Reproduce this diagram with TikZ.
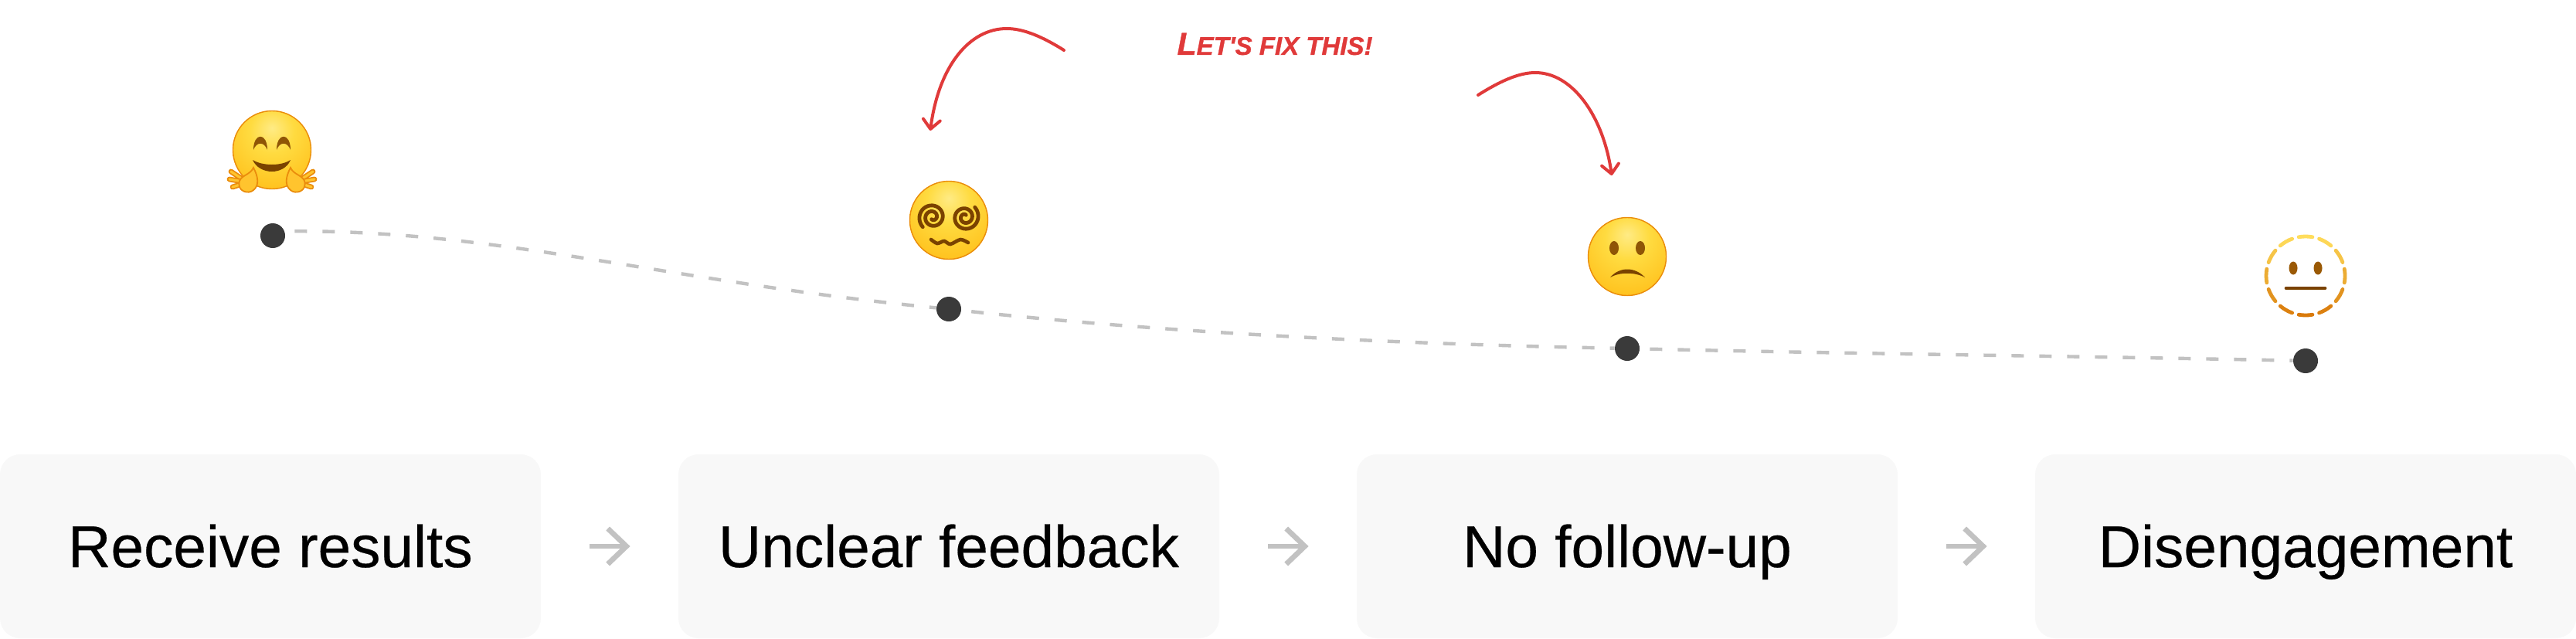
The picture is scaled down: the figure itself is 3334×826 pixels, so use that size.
\documentclass[tikz,border=0pt]{standalone}
\usepackage{fontspec}
\setmainfont{Liberation Sans}
\newfontfamily\boxfont[FakeBold=0.3]{Liberation Sans}
\newfontfamily\notefont[FakeBold=1]{Liberation Sans Bold Italic}
\usetikzlibrary{arrows.meta}

\definecolor{boxgray}{HTML}{F8F8F8}
\definecolor{linegray}{HTML}{C2C2C2}
\definecolor{dotdark}{HTML}{3A3A3A}
\definecolor{notered}{HTML}{E03A3A}
\definecolor{facerim}{HTML}{EA8C0C}
\definecolor{browndark}{HTML}{7A4200}
\definecolor{brownmid}{HTML}{8F5506}
\definecolor{handlight}{HTML}{FFC42E}
\definecolor{dashtop}{HTML}{FFDD5C}
\definecolor{dashbottom}{HTML}{D97A0A}

\definecolor{faceA}{HTML}{FFEB85}
\definecolor{faceB}{HTML}{FFDB40}
\definecolor{faceC}{HTML}{FFC522}
\definecolor{faceD}{HTML}{F8A015}
\definecolor{faceE}{HTML}{E27E08}

\pgfdeclareradialshading{faceshade}{\pgfpoint{0bp}{14bp}}{%
  color(0bp)=(faceA);
  color(14bp)=(faceB);
  color(32bp)=(faceC);
  color(47bp)=(faceD);
  color(62bp)=(faceE);
  color(100bp)=(faceE)}

\tikzset{
  stepbox/.style={fill=boxgray,rounded corners=13pt,minimum width=350pt,minimum height=119pt,
    inner sep=0pt,text height=27pt,text depth=0pt,font=\boxfont\fontsize{38.3}{38.3}\selectfont},
  stepflow/.style={linegray,line width=3.4pt,shorten <=31.5pt,shorten >=31pt,
    -{Straight Barb[length=12pt,width=23pt,line width=3.4pt]}},
  dotmark/.style={circle,fill=dotdark,minimum size=16pt,inner sep=0pt},
  journey/.style={linegray,line width=2.2pt,dash pattern=on 8pt off 10pt,dash phase=11.5pt},
  redcurve/.style={notered,line width=2pt,line cap=round,
    -{Straight Barb[length=6pt,width=11pt,line width=2pt,round]}}
}

% one yellow ball, no features
\newcommand{\faceball}{
  \shade[shading=faceshade] (0,0) circle [radius=51];
  \draw[facerim,line width=0.7pt] (0,0) circle [radius=50.5];
}

\begin{document}
\begin{tikzpicture}[x=0.5pt,y=-0.5pt]
  \useasboundingbox (0,0) rectangle (3334,826);

  % Boxes
  \node[stepbox] (receive) at (350,707) {Receive results};
  \node[stepbox] (unclear) at (1228,707) {Unclear feedback};
  \node[stepbox] (nofollow) at (2106,707) {No follow-up};
  \node[stepbox] (disengage) at (2984,707) {Disengagement};
  \draw[stepflow] (receive) -- (unclear);
  \draw[stepflow] (unclear) -- (nofollow);
  \draw[stepflow] (nofollow) -- (disengage);

  % Dots and dashed line
  \node[dotmark] (dotA) at (353,305) {};
  \node[dotmark] (dotB) at (1228,400) {};
  \node[dotmark] (dotC) at (2106,451) {};
  \node[dotmark] (dotD) at (2984,467) {};
  \draw[journey] (dotA.20) .. controls (640,296) and (860,364) .. (dotB)
    .. controls (1500,430) and (1800,445) .. (dotC)
    .. controls (2400,458) and (2700,461) .. (dotD);

  % Hugging face
  \begin{scope}[shift={(352,194)}]
    \faceball
    \fill[brownmid] (-24,0) .. controls (-24,-23) and (-6,-23) .. (-6,0)
      .. controls (-10,-11) and (-20,-11) .. cycle;
    \fill[brownmid] (6,0) .. controls (6,-23) and (24,-23) .. (24,0)
      .. controls (20,-11) and (10,-11) .. cycle;
    \fill[browndark] (-25,13) .. controls (-12,21) and (12,21) .. (24,13)
      .. controls (16,33) and (-16,33) .. cycle;
    \foreach \side in {-1,1} {
      \begin{scope}[xscale=\side]
        \foreach \tipx/\tipy in {53/28,55/38,51/48} {
          \draw[facerim,line width=3.4pt,line cap=round] (32,42) -- (\tipx,\tipy);
          \draw[handlight,line width=1.6pt,line cap=round] (32,42) -- (\tipx,\tipy);
        }
        \fill[handlight,draw=facerim,line width=0.9pt] (24,23)
          .. controls (28,32) and (38,32) .. (42,40)
          .. controls (46,54) and (30,58) .. (24,52)
          .. controls (16,46) and (18,34) .. cycle;
      \end{scope}
    }
  \end{scope}

  % Spiral eyes
  \begin{scope}[shift={(1228,285)}]
    \faceball
    \foreach \cx/\start in {-21/135,21/-45} {
      \draw[browndark,line width=2.4pt,line cap=round,domain=0:700,samples=80,smooth,variable=\t]
        plot ({\cx+(18-15*\t/700)*cos(\start+\t)},{-4+(18-15*\t/700)*sin(\start+\t)});
    }
    \draw[browndark,line width=2.3pt,line cap=round] plot [smooth] coordinates
      {(-23,25) (-15,30) (-6,27) (2,31) (15,25) (25,29)};
  \end{scope}

  % Sad face
  \begin{scope}[shift={(2106,332)}]
    \faceball
    \fill[brownmid] (-17,-11) ellipse [x radius=6,y radius=9];
    \fill[brownmid] (17,-11) ellipse [x radius=6,y radius=9];
    \fill[browndark] (-22,27) .. controls (-10,13) and (10,13) .. (23,27)
      .. controls (10,20) and (-10,20) .. cycle;
  \end{scope}

  % Dashed face
  \begin{scope}[shift={(2984,357)}]
    \foreach \ang in {0,30,...,330} {
      \pgfmathtruncatemacro{\tone}{50+50*sin(\ang)}
      \draw[dashbottom!\tone!dashtop,line width=2.4pt,line cap=round]
        (\ang-10:51) arc [start angle=\ang-10,end angle=\ang+10,radius=51];
    }
    \fill[brownmid!90!orange] (-16,-10) ellipse [x radius=5.5,y radius=8.5];
    \fill[brownmid!90!orange] (16,-10) ellipse [x radius=5.5,y radius=8.5];
    \draw[browndark,line width=2.4pt,line cap=round] (-25,16) -- (25,16);
  \end{scope}

  % Red notes
  \coordinate (leftstart) at (1377,65);
  \coordinate (lefttip) at (1204,169);
  \coordinate (rightstart) at (1913,123);
  \coordinate (righttip) at (2086,227);
  \draw[redcurve] (leftstart) .. controls (1350,48) and (1325,37) .. (1303,37)
    .. controls (1255,37) and (1215,85) .. (lefttip);
  \draw[redcurve] (rightstart) .. controls (1940,106) and (1965,94) .. (1987,94)
    .. controls (2035,94) and (2075,150) .. (righttip);
  \node[notered,inner sep=0pt,font=\notefont] (fixnote) at (1650,57)
    {\fontsize{20.5}{20.5}\selectfont L\fontsize{16.5}{16.5}\selectfont ET'S FIX THIS!};
\end{tikzpicture}
\end{document}
